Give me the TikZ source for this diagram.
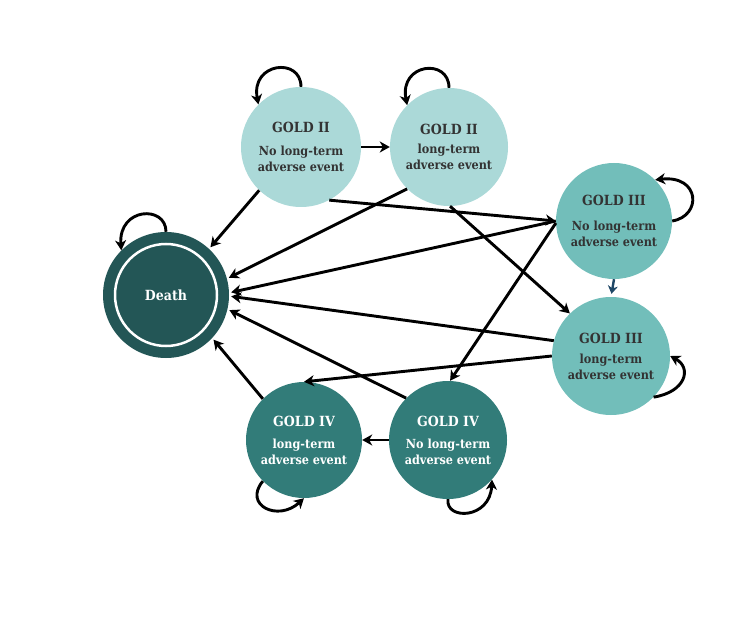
\documentclass[tikz,border=0pt]{standalone}
\usepackage{fontspec}
\setmainfont{DejaVu Serif Condensed}
\usetikzlibrary{arrows.meta}
\definecolor{gtwo}{HTML}{ABD9D8}
\definecolor{gthree}{HTML}{72BEBA}
\definecolor{gfour}{HTML}{327C79}
\definecolor{gdeath}{HTML}{235656}
\definecolor{txtdark}{HTML}{333333}
\definecolor{arrblue}{HTML}{1F4766}
\newcommand\ttl{\fontsize{14}{16}\selectfont}
\begin{document}
\begin{tikzpicture}[x=1pt,y=-1pt,
  state/.style={circle, inner sep=0pt, align=center,
    font=\bfseries\fontsize{12.5}{16}\selectfont},
  light/.style={state, text=txtdark},
  darkst/.style={state, text=white},
  arr/.style={line width=2.9pt, -{Stealth[length=10pt,width=11pt,inset=3pt]}},
  arrblue/.style={line width=2.4pt, color=arrblue, -{Stealth[length=8pt,width=10pt,inset=2.5pt]}},
]
\useasboundingbox (0,0) rectangle (754,620);

\node[light, fill=gtwo, minimum size=120pt] (A) at (301,147)
  {{\ttl GOLD II}\\[7pt]No long-term\\adverse event};
\node[light, fill=gtwo, minimum size=118pt] (B) at (449,147)
  {{\ttl GOLD II}\\[3pt]long-term\\adverse event};
\node[light, fill=gthree, minimum size=116pt] (C) at (614,221)
  {{\ttl GOLD III}\\[9pt]No long-term\\adverse event};
\node[light, fill=gthree, minimum size=118pt] (D) at (611,356)
  {{\ttl GOLD III}\\[4pt]long-term\\adverse event};
\node[darkst, fill=gfour, minimum size=116pt] (E) at (304,440)
  {{\ttl GOLD IV}\\[6pt]long-term\\adverse event};
\node[darkst, fill=gfour, minimum size=118pt] (F) at (448,440)
  {{\ttl GOLD IV}\\[6pt]No long-term\\adverse event};
\node[darkst, fill=gdeath, minimum size=126pt, font=\bfseries\fontsize{14}{16}\selectfont] (Death) at (166,295) {Death};
\draw[white, line width=2.5pt] (Death.center) circle[radius=51pt];

% transitions
\draw[arr] (A.east) -- (B.west);
\draw[arr, shorten >=2pt] (A.226) -- (Death.47.5);
\draw[arr] (A.-62) -- (C.180);
\draw[arr, shorten >=2pt] (B.225) -- (Death.15.5);
\draw[arr] (B.-89) -- (D.134);
\draw[arr, shorten >=2pt] (C.180) -- (Death.2.6);
\draw[arr] (C.182) -- (F.88);
\draw[arrblue, shorten >=3pt] (C.south) -- (D.north);
\draw[arr, shorten >=2pt] (D.165) -- (Death.-1.8);
\draw[arr] (D.180) -- (E.90);
\draw[arr, shorten >=2pt] (F.135) -- (Death.-13);
\draw[arr, shorten >=2pt] (E.135) -- (Death.-43.8);
\draw[arr] (F.180) -- (E.0);

% self loops
\draw[arr] (Death.90) .. controls +(0,-27) and +(-3,-43) .. (Death.135);
\draw[arr] (A.90) .. controls +(0,-30) and +(-8,-42) .. (A.135);
\draw[arr] (B.90) .. controls +(0,-30) and +(-8,-42) .. (B.135);
\draw[arr] (C.0) .. controls +(30,-5) and +(45,-5) .. (C.45);
\draw[arr] (D.-44) .. controls +(32,-5) and +(22,12) .. (D.0);
\draw[arr] (E.225) .. controls +(-20,24) and +(-26,24) .. (E.270);
\draw[arr] (F.270) .. controls +(-3,21) and +(-2,40) .. (F.-42);
\end{tikzpicture}
\end{document}
